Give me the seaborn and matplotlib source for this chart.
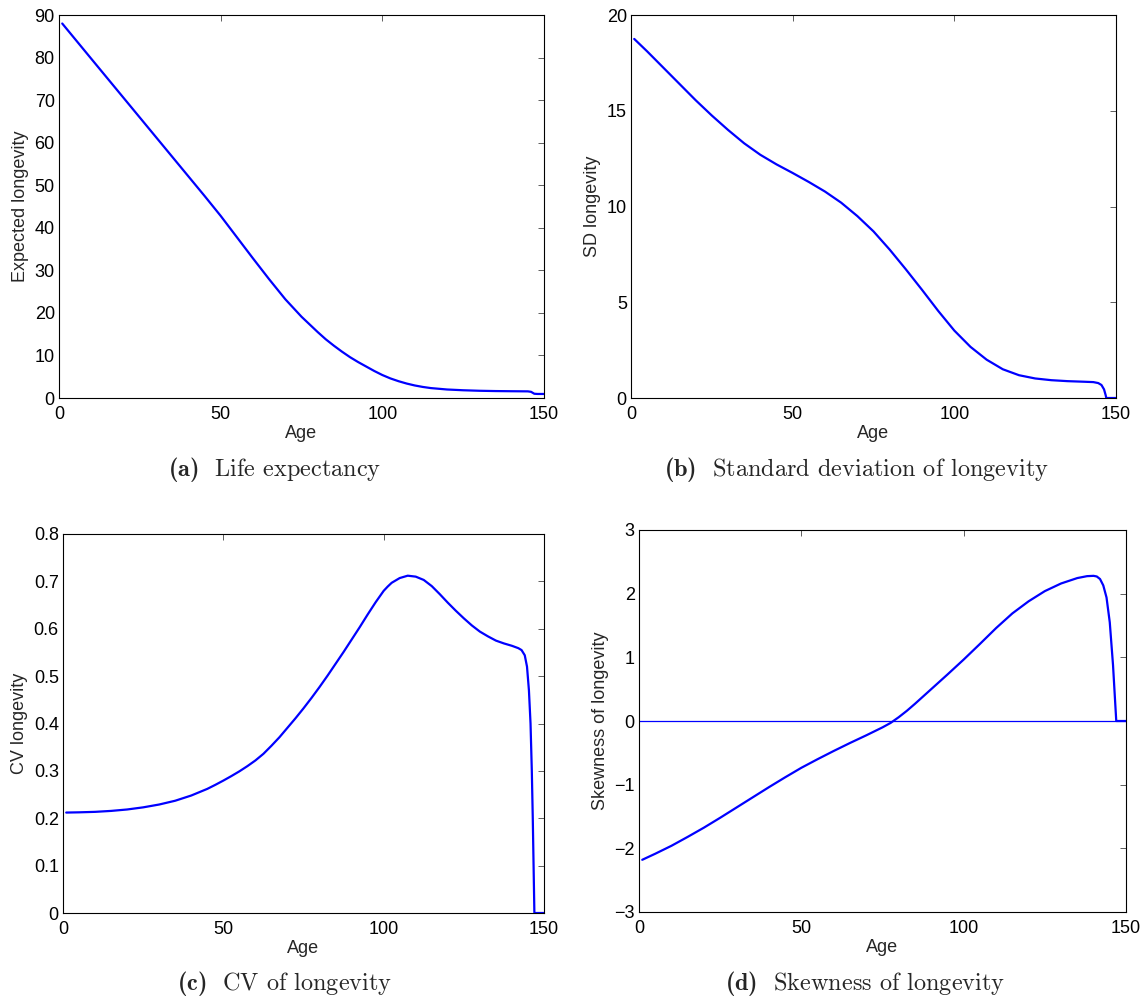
import numpy as np
import pandas as pd
import matplotlib
matplotlib.use("Agg")
import matplotlib.pyplot as plt
import seaborn as sns

# ---- data -----------------------------------------------------------------
# (a) life expectancy by age
ages_a = [1, 10, 20, 30, 40, 45, 50, 55, 60, 65, 70, 75, 80, 82.5, 85, 87.5,
          90, 92.5, 95, 97.5, 100, 102.5, 105, 107.5, 110, 112.5, 115, 120,
          125, 130, 135, 140, 145, 146, 147, 148, 150]
mean_a = [88.0, 79.7, 70.5, 61.3, 52.1, 47.5, 42.8, 37.8, 32.8, 27.9, 23.2,
          19.1, 15.5, 13.8, 12.3, 10.9, 9.6, 8.45, 7.4, 6.35, 5.4, 4.6, 3.95,
          3.4, 2.95, 2.6, 2.33, 2.0, 1.82, 1.7, 1.63, 1.59, 1.56, 1.45, 1.0,
          0.95, 0.95]

# (b) standard deviation of longevity
ages_b = [1, 5, 10, 15, 20, 25, 30, 35, 40, 45, 50, 55, 60, 65, 70, 75, 80,
          85, 90, 95, 100, 105, 110, 115, 120, 125, 130, 135, 140, 143, 144.5,
          145.5, 146.3, 146.8, 147, 150]
sd_b = [18.75, 18.1, 17.25, 16.4, 15.55, 14.75, 14.0, 13.3, 12.7, 12.2, 11.75,
        11.28, 10.78, 10.2, 9.5, 8.7, 7.75, 6.72, 5.65, 4.55, 3.52, 2.67, 2.0,
        1.5, 1.19, 1.02, 0.93, 0.88, 0.85, 0.83, 0.78, 0.68, 0.45, 0.15, 0.0,
        0.0]

# (c) coefficient of variation of longevity
ages_c = [1, 5, 10, 15, 20, 25, 30, 35, 40, 45, 47.5, 50, 52.5, 55, 57.5, 60,
          62.5, 65, 67.5, 70, 72.5, 75, 77.5, 80, 82.5, 85, 87.5, 90, 92.5, 95,
          97.5, 100, 101.25, 102.5, 105, 107.5, 110, 112.5, 115, 117.5, 120,
          122.5, 125, 127.5, 130, 132.5, 135, 137.5, 140, 142, 143, 144, 144.7,
          145.3, 145.8, 146.2, 146.5, 146.8, 147, 150]
cv_c = [0.212, 0.2125, 0.2135, 0.2155, 0.2185, 0.223, 0.229, 0.237, 0.248,
        0.262, 0.2705, 0.2795, 0.289, 0.299, 0.310, 0.322, 0.336, 0.353,
        0.371, 0.391, 0.411, 0.432, 0.454, 0.477, 0.501, 0.526, 0.551, 0.577,
        0.603, 0.630, 0.656, 0.680, 0.689, 0.697, 0.707, 0.712, 0.710, 0.703,
        0.690, 0.673, 0.655, 0.638, 0.622, 0.607, 0.594, 0.584, 0.575, 0.569,
        0.564, 0.559, 0.555, 0.544, 0.52, 0.47, 0.40, 0.30, 0.20, 0.08, 0.0,
        0.0]

# (d) skewness of longevity
ages_d = [1, 5, 10, 15, 20, 25, 30, 35, 40, 45, 50, 55, 60, 65, 70, 75, 77.5,
          80, 82.5, 85, 87.5, 90, 95, 100, 105, 110, 115, 120, 125, 130, 135,
          138, 140, 141, 142, 143, 144, 145, 146, 146.6, 147, 150]
skew_d = [-2.18, -2.085, -1.96, -1.82, -1.675, -1.52, -1.36, -1.20, -1.04,
          -0.885, -0.735, -0.60, -0.47, -0.345, -0.225, -0.10, -0.03, 0.06,
          0.16, 0.27, 0.385, 0.50, 0.73, 0.965, 1.21, 1.46, 1.69, 1.88, 2.04,
          2.16, 2.245, 2.275, 2.28, 2.27, 2.23, 2.13, 1.94, 1.55, 0.88, 0.35,
          0.0, 0.0]
skew_ref = [0.0]

# ---- axis ticks and labels ------------------------------------------------
age_ticks = [0, 50, 100, 150]
yticks_a = [0, 10, 20, 30, 40, 50, 60, 70, 80, 90]
yticks_b = [0, 5, 10, 15, 20]
yticks_c = [0, 0.1, 0.2, 0.3, 0.4, 0.5, 0.6, 0.7, 0.8]
ylabels_c = ["0", "0.1", "0.2", "0.3", "0.4", "0.5", "0.6", "0.7", "0.8"]
yticks_d = [-3, -2, -1, 0, 1, 2, 3]
ylabels_d = ["\u22123", "\u22122", "\u22121", "0", "1", "2", "3"]

ylab = ["Expected longevity", "SD longevity", "CV longevity",
        "Skewness of longevity"]
captions = [r"$\mathbf{(a)}\ \ \mathrm{Life\ expectancy}$",
            r"$\mathbf{(b)}\ \ \mathrm{Standard\ deviation\ of\ longevity}$",
            r"$\mathbf{(c)}\ \ \mathrm{CV\ of\ longevity}$",
            r"$\mathbf{(d)}\ \ \mathrm{Skewness\ of\ longevity}$"]

# ---- style ----------------------------------------------------------------
sns.set_theme(style="white")
plt.rcParams["font.family"] = ["Liberation Sans", "DejaVu Sans"]
plt.rcParams["mathtext.fontset"] = "custom"
plt.rcParams["mathtext.rm"] = "cmr10"
plt.rcParams["mathtext.bf"] = "cmb10"
plt.rcParams["axes.edgecolor"] = "black"
plt.rcParams["axes.linewidth"] = 0.8

W, H = 1147, 1001
fig = plt.figure(figsize=(W / 100, H / 100), dpi=100)
fig.patch.set_facecolor("white")


def rect(x0, x1, ytop, ybot):
    return [x0 / W, 1 - ybot / H, (x1 - x0) / W, (ybot - ytop) / H]


ax_a = fig.add_axes(rect(59, 544, 15, 398))
ax_b = fig.add_axes(rect(631, 1116, 15, 398))
ax_c = fig.add_axes(rect(63, 544, 534, 913))
ax_d = fig.add_axes(rect(639, 1126, 530, 912))

blue = (0, 0, 1)
panels = [
    (ax_a, ages_a, mean_a, (0, 90), yticks_a, None),
    (ax_b, ages_b, sd_b, (0, 20), yticks_b, None),
    (ax_c, ages_c, cv_c, (0, 0.8), yticks_c, ylabels_c),
    (ax_d, ages_d, skew_d, (-3, 3), yticks_d, ylabels_d),
]

for i, (ax, x, y, ylim, yt, yl) in enumerate(panels):
    df = pd.DataFrame({"Age": x, "value": y})
    sns.lineplot(data=df, x="Age", y="value", ax=ax, color=blue,
                 linewidth=1.6, sort=False)
    ax.set_xlim(0, 150)
    ax.set_ylim(*ylim)
    ax.set_xticks(age_ticks)
    if yl is None:
        ax.set_yticks(yt)
    else:
        ax.set_yticks(yt, labels=yl)
    ax.tick_params(axis="both", which="both", direction="in", top=True,
                   right=True, length=4, width=0.6, color="#444444",
                   labelsize=13, labelcolor="black")
    ax.tick_params(axis="x", pad=5.5)
    ax.tick_params(axis="y", pad=3)
    ax.set_xlabel("Age", fontsize=13, labelpad=2)
    ax.set_ylabel(ylab[i], fontsize=13, labelpad=4)
    for s in ax.spines.values():
        s.set_visible(True)
        s.set_color("black")
        s.set_linewidth(0.8)

# horizontal reference at zero skewness
ax_d.axhline(skew_ref[0], color=blue, linewidth=0.9, zorder=1)

cap_pos = [(275, 470), (856, 470), (285, 983), (865, 983)]
for cap, (cx, cy) in zip(captions, cap_pos):
    fig.text(cx / W, 1 - cy / H, cap, ha="center", va="center", fontsize=17.5)

fig.savefig("out.png", dpi=100, facecolor="white")
